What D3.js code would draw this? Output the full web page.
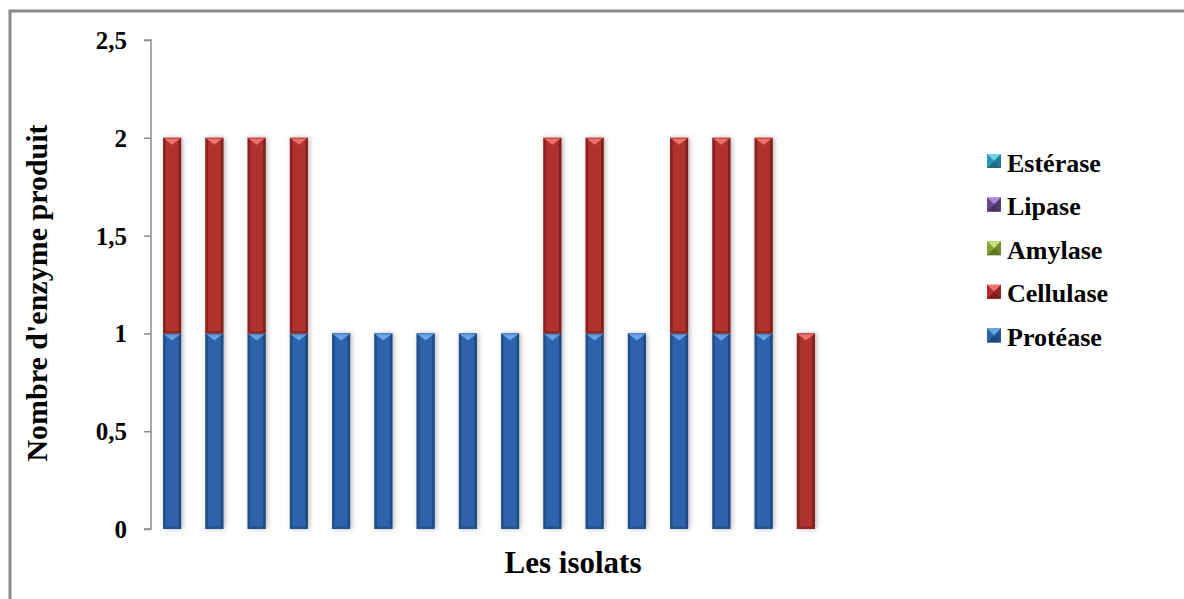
<!DOCTYPE html>
<html>
<head>
<meta charset="utf-8">
<script src="https://cdn.jsdelivr.net/npm/d3@7"></script>
<style>
  html, body { margin: 0; padding: 0; background: #fff; }
  svg { display: block; }
  text { font-family: "Liberation Serif", "Times New Roman", serif; font-weight: bold; fill: #000; }
</style>
</head>
<body>
<svg id="chart" width="1184" height="599"></svg>
<script>
// ---- data ----
const isolats   = ["1","2","3","4","5","6","7","8","9","10","11","12","13","14","15","16"];
const protease  = [1,1,1,1,1,1,1,1,1,1,1,1,1,1,1,0];
const cellulase = [1,1,1,1,0,0,0,0,0,1,1,0,1,1,1,1];
const amylase   = [0,0,0,0,0,0,0,0,0,0,0,0,0,0,0,0];
const lipase    = [0,0,0,0,0,0,0,0,0,0,0,0,0,0,0,0];
const esterase  = [0,0,0,0,0,0,0,0,0,0,0,0,0,0,0,0];
const seriesNames = ["Protéase","Cellulase","Amylase","Lipase","Estérase"];
const yTicks = [0, 0.5, 1, 1.5, 2, 2.5];
const yTickLabels = ["0","0,5","1","1,5","2","2,5"];
const yTitle = "Nombre d'enzyme produit";
const xTitle = "Les isolats";

// ---- styling ----
const colors = {
  "Protéase":  {base:"#2e64ab", dark:"#1d477d", light:"#6aa6e6"},
  "Cellulase": {base:"#b0302e", dark:"#7b1e1d", light:"#f0706c"},
  "Amylase":   {base:"#86a23a", dark:"#5e7526", light:"#c3e07a"},
  "Lipase":    {base:"#664b8f", dark:"#45315f", light:"#a98bd6"},
  "Estérase":  {base:"#2c97b4", dark:"#1d6b80", light:"#6fd2ec"}
};

const svg = d3.select("#chart");
const defs = svg.append("defs");
const f = defs.append("filter").attr("id","sh").attr("x","-60%").attr("y","-10%").attr("width","220%").attr("height","120%");
f.append("feDropShadow").attr("dx",1.5).attr("dy",0).attr("stdDeviation",2.6)
  .attr("flood-color","#000").attr("flood-opacity",0.3);

// outer frame
svg.append("rect").attr("x",10).attr("y",11).attr("width",1400).attr("height",900)
  .attr("fill","none").attr("stroke","#8c8c8c").attr("stroke-width",3);

const plot = {left:151, right:827, top:40, bottom:529};

const x = d3.scaleBand().domain(isolats).range([plot.left, plot.right]).padding(0);
const y = d3.scaleLinear().domain([0, 2.5]).range([plot.bottom, plot.top]);
const barW = x.bandwidth() * 0.426;

const table = isolats.map((c,i) => ({
  isolat:c, "Protéase":protease[i], "Cellulase":cellulase[i],
  "Amylase":amylase[i], "Lipase":lipase[i], "Estérase":esterase[i]
}));
const stacked = d3.stack().keys(seriesNames)(table);

// bars
const gBars = svg.append("g");
function bevelSeg(g, x0, y0, w, h, col) {
  const x1 = x0 + w, y1 = y0 + h, xm = x0 + w/2, b = 2.5;
  const tri = Math.min(7, h/2);
  const seg = g.append("g");
  seg.append("rect").attr("x",x0).attr("y",y0).attr("width",w).attr("height",h).attr("fill",col.base)
    .attr("filter","url(#sh)");
  seg.append("polygon").attr("points",[[x0,y0],[x0+b,y0+b],[x0+b,y1-b],[x0,y1]].join(" "))
    .attr("fill",col.dark).attr("opacity",0.75);
  seg.append("polygon").attr("points",[[x1,y0],[x1-b,y0+b],[x1-b,y1-b],[x1,y1]].join(" "))
    .attr("fill",col.dark).attr("opacity",0.9);
  seg.append("polygon").attr("points",[[x0,y1],[x0+b,y1-b],[x1-b,y1-b],[x1,y1]].join(" "))
    .attr("fill",col.dark).attr("opacity",0.6);
  seg.append("polygon").attr("points",[[x0,y0],[x1,y0],[xm,y0+tri]].join(" "))
    .attr("fill",col.light);
  seg.append("line").attr("x1",x0).attr("x2",x1).attr("y1",y0+0.5).attr("y2",y0+0.5)
    .attr("stroke",col.dark).attr("stroke-width",1).attr("opacity",0.5);
}
stacked.forEach(s => {
  const key = s.key;
  s.forEach(d => {
    if (d[1] - d[0] <= 0) return;
    const x0 = x(d.data.isolat) + (x.bandwidth() - barW)/2;
    bevelSeg(gBars, x0, y(d[1]), barW, y(d[0]) - y(d[1]), colors[key]);
  });
});

// y axis
const yAxis = d3.axisLeft(y).tickValues(yTicks).tickFormat((d,i) => yTickLabels[i]).tickSize(7).tickPadding(17);
const ga = svg.append("g").attr("transform",`translate(${plot.left},0)`).call(yAxis);
ga.select(".domain").attr("stroke","#8c8c8c").attr("stroke-width",1.5)
  .attr("d", `M-7,${plot.top}H0V${plot.bottom}H-7`);
ga.selectAll(".tick line").attr("stroke","#8c8c8c").attr("stroke-width",1.5);
ga.selectAll(".tick text").attr("font-family","Liberation Serif").attr("font-weight","bold")
  .attr("font-size",25).attr("fill","#000").attr("dy","0.34em");

// axis titles
svg.append("text").attr("transform","translate(47,293) rotate(-90)")
  .attr("text-anchor","middle").attr("font-size",30).text(yTitle);
svg.append("text").attr("x",573).attr("y",573).attr("text-anchor","middle")
  .attr("font-size",31).text(xTitle);

// legend
const legendOrder = ["Estérase","Lipase","Amylase","Cellulase","Protéase"];
const lg = svg.append("g");
legendOrder.forEach((name,i) => {
  const cy = 161 + i*43.6;
  const col = colors[name];
  const g = lg.append("g");
  const s = 14, lx = 987, ly = cy - s/2;
  g.append("rect").attr("x",lx).attr("y",ly).attr("width",s).attr("height",s).attr("fill",col.base);
  g.append("polygon").attr("points",[[lx,ly],[lx+s,ly],[lx+s/2,ly+s/2]].join(" ")).attr("fill",col.light);
  g.append("polygon").attr("points",[[lx,ly+s],[lx+s,ly+s],[lx+s/2,ly+s/2]].join(" ")).attr("fill",col.dark);
  g.append("polygon").attr("points",[[lx,ly],[lx,ly+s],[lx+s/2,ly+s/2]].join(" ")).attr("fill",col.base);
  g.append("polygon").attr("points",[[lx+s,ly],[lx+s,ly+s],[lx+s/2,ly+s/2]].join(" ")).attr("fill",col.dark).attr("opacity",0.6);
  g.append("text").attr("x",1007).attr("y",cy+10.5).attr("font-size",26).text(name);
});
</script>
</body>
</html>
